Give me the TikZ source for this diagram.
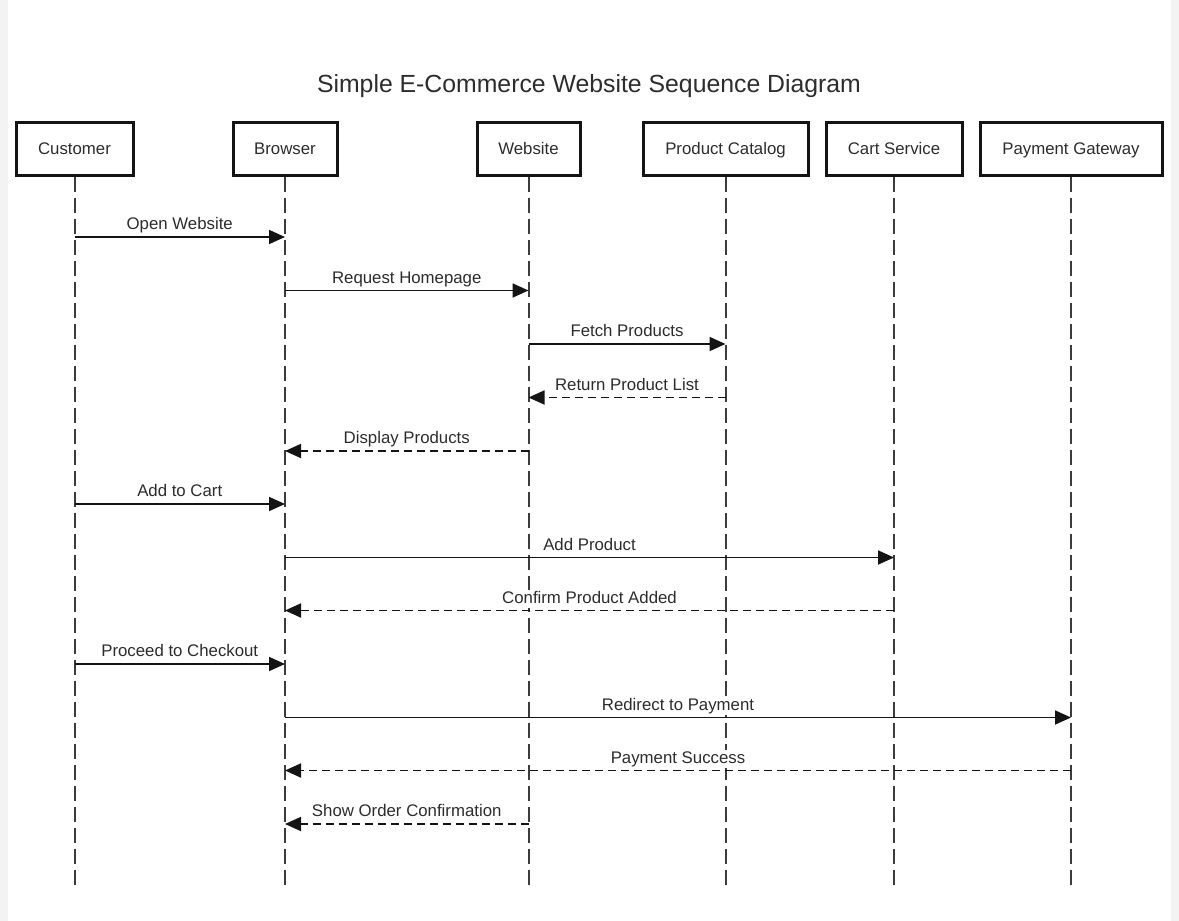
\documentclass[tikz,border=0pt]{standalone}
\usepackage{fontspec}
\setmainfont{Liberation Sans}
\usetikzlibrary{arrows.meta}
\definecolor{txt}{RGB}{45,45,45}
\definecolor{ink}{RGB}{20,20,20}
\definecolor{lifec}{RGB}{60,60,60}
\definecolor{frame}{RGB}{243,243,243}
\begin{document}
\begin{tikzpicture}[x=1pt,y=-1pt,
  actor/.style={draw=ink,line width=3pt,fill=white,text=txt,
    minimum height=53pt,inner sep=0pt,text height=15pt,text depth=3pt,
    font=\fontsize{16.8}{20}\selectfont},
  life/.style={draw=lifec,line width=2pt,dash pattern=on 15pt off 6pt},
  msg/.style={draw=ink,line width=1.8pt,
    -{Triangle[length=16pt,width=14pt]}},
  reply/.style={msg,dash pattern=on 8pt off 5pt},
  lbl/.style={text=txt,fill=white,font=\fontsize{16.8}{20}\selectfont,
    text height=12pt,text depth=3.5pt,above=2pt,inner sep=1pt}]
% page background and white panel
\fill[frame] (0,0) rectangle (1179,921);
\fill[white] (8,0) rectangle (1171,921);
\useasboundingbox (0,0) rectangle (1179,921);

\node[text=txt,font=\fontsize{24.8}{30}\selectfont,text height=18pt,text depth=5pt]
  (title) at (589,86) {Simple E-Commerce Website Sequence Diagram};

% participants
\node[actor,minimum width=117pt] (cust) at (74.5,148.5) {Customer};
\node[actor,minimum width=104pt] (brow) at (285,148.5) {Browser};
\node[actor,minimum width=103pt] (web)  at (528.5,148.5) {Website};
\node[actor,minimum width=165pt] (cat)  at (725.5,148.5) {Product Catalog};
\node[actor,minimum width=136pt] (cart) at (894,148.5) {Cart Service};
\node[actor,minimum width=182pt] (pay)  at (1071,148.5) {Payment Gateway};

% lifelines
\coordinate (bot) at (0,888);
\foreach \p in {cust,brow,web,cat,cart,pay}
  \draw[life] (\p.south) -- (\p |- bot);

% message rows
\coordinate (m1) at (0,237);
\coordinate (m2) at (0,290.5);
\coordinate (m3) at (0,344);
\coordinate (m4) at (0,397.5);
\coordinate (m5) at (0,451);
\coordinate (m6) at (0,504);
\coordinate (m7) at (0,557.5);
\coordinate (m8) at (0,610.5);
\coordinate (m9) at (0,664);
\coordinate (m10) at (0,717.5);
\coordinate (m11) at (0,770.5);
\coordinate (m12) at (0,824);

% messages
\draw[msg]   (cust |- m1) -- node[lbl] {Open Website} (brow |- m1);
\draw[msg]   (brow |- m2) -- node[lbl] {Request Homepage} (web |- m2);
\draw[msg]   (web |- m3) -- node[lbl] {Fetch Products} (cat |- m3);
\draw[reply] (cat |- m4) -- node[lbl] {Return Product List} (web |- m4);
\draw[reply] (web |- m5) -- node[lbl] {Display Products} (brow |- m5);
\draw[msg]   (cust |- m6) -- node[lbl] {Add to Cart} (brow |- m6);
\draw[msg]   (brow |- m7) -- node[lbl] {Add Product} (cart |- m7);
\draw[reply] (cart |- m8) -- node[lbl] {Confirm Product Added} (brow |- m8);
\draw[msg]   (cust |- m9) -- node[lbl] {Proceed to Checkout} (brow |- m9);
\draw[msg]   (brow |- m10) -- node[lbl] {Redirect to Payment} (pay |- m10);
\draw[reply] (pay |- m11) -- node[lbl] {Payment Success} (brow |- m11);
\draw[reply] (web |- m12) -- node[lbl] {Show Order Confirmation} (brow |- m12);
\end{tikzpicture}
\end{document}
